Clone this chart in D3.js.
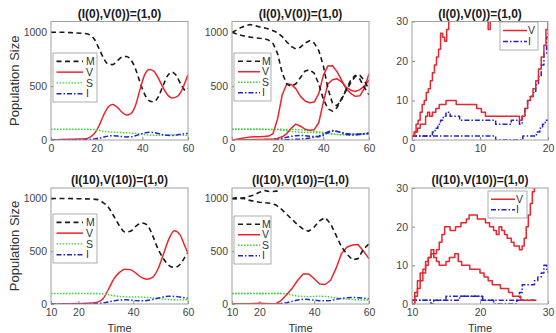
<!DOCTYPE html>
<html>
<head>
<meta charset="utf-8">
<script src="https://cdn.jsdelivr.net/npm/d3@7"></script>
<style>
  body { margin: 0; background: #fff; }
  svg { display: block; }
  text { font-family: "Liberation Sans", Arial, sans-serif; }
</style>
</head>
<body>
<svg id="chart" width="556" height="333"></svg>
<script>
// ---- data ----
// top left: (I(0),V(0))=(1,0), mean curves
const p1T = [0,5,10,15,17,19,21,23,25,27,29,31,33,35,37,39,41,43,45,47,49,51,53,55,57,59,60];
const p1M = [1000,1000,995,988,975,935,850,760,705,700,735,768,775,745,660,535,425,365,355,400,500,595,630,595,510,460,480];
const p1V = [0,5,8,12,25,60,130,230,305,330,305,260,232,245,320,470,605,655,640,575,490,420,390,400,450,550,605];
const p1S = [100,100,100,100,99,96,90,82,76,73,71,69,67,65,61,56,50,46,44,44,46,48,48,47,45,43,43];
const p1I = [0,1,2,3,5,9,16,27,36,40,37,32,29,31,40,54,66,71,69,60,49,43,42,47,54,59,60];

// top middle: two stochastic runs
const p2T = [0,2,4,6,8,10,12,14,16,18,20,22,24,26,28,30,32,34,36,38,40,42,44,46,48,50,52,54,56,58,60];
const p2MA = [1000,1020,1045,1060,1072,1062,1050,1042,1030,1015,995,960,910,868,845,862,900,922,900,830,690,480,340,318,375,470,555,600,565,485,420];
const p2MB = [1000,985,972,962,955,950,944,940,928,895,800,620,520,498,522,580,640,652,620,520,380,290,268,300,385,460,530,590,600,550,470];
const p2VA = [0,6,14,22,27,30,30,33,36,60,200,420,520,515,475,405,362,346,352,430,600,688,690,635,555,475,432,405,410,480,615];
const p2VB = [0,0,1,2,3,4,5,6,8,10,15,30,60,110,148,128,100,90,96,160,350,520,560,568,540,490,462,450,468,500,555];
const p2SA = [100,101,99,100,100,99,100,98,99,97,95,90,85,80,76,73,71,70,69,67,64,60,55,50,48,47,48,50,52,54,55];
const p2SB = [100,100,101,99,100,100,99,100,98,99,100,99,98,98,97,95,90,85,80,75,70,62,55,52,50,50,52,55,58,60,62];
const p2IA = [0,0,1,1,2,2,3,3,4,5,8,15,25,34,40,42,40,35,32,31,42,66,85,80,66,52,46,45,50,55,60];
const p2IB = [0,0,0,0,0,1,1,1,1,1,2,2,3,4,6,8,12,18,26,36,56,76,88,80,70,60,55,55,56,60,64];

// top right: early phase, step data
const p3VAt = [0,0.3,0.6,0.9,1.2,1.5,1.8,2.1,2.4,2.7,3.0,3.3,3.6,3.9,4.2,4.5,4.8,5.1,5.4,5.7,6.5,8,10,10.9,11.2,11.5,13,16,20];
const p3VA  = [1,2,4,5,7,9,10,12,13,15,17,19,21,23,27,26,25,28,30,32,35,38,36,32,28,33,38,42,45];
const p3VBt = [0,0.4,0.8,1.2,2.0,2.3,2.6,3.0,3.5,4.0,4.5,5.0,5.8,6.5,7.0,8.5,9.5,10.2,10.8,12,14,15.8,16.2,16.6,17.0,17.4,17.8,18.2,18.6,19.0,19.4,19.7,20];
const p3VB  = [1,2,3,4,6,7,6,7,8,9,9,10,10,9,9,9,8,7,6,6,6,5,6,8,10,11,13,15,18,21,24,28,31];
const p3IAt = [0,3.0,3.4,3.8,4.2,4.6,5.0,5.6,6.2,7.0,9,11,12.3,13,14,14.6,15.2,15.8,16.2,16.6,17.0,17.4,17.8,18.2,18.6,19.0,19.4,19.8,20];
const p3IA  = [1,2,3,4,5,6,7,6,6,5,5,5,4,4,4,5,5,4,6,8,10,11,12,14,16,19,22,26,28];
const p3IBt = [0,12.3,16.3,18.3,18.8,19.2,19.6,20];
const p3IB  = [1,0,1,2,3,4,5,5];

// bottom left: (I(10),V(10))=(1,0), mean curves
const p4T = [10,15,20,25,27,29,31,33,35,37,39,41,43,45,47,49,51,53,55,57,59,60];
const p4M = [1000,1000,998,995,990,962,915,830,740,682,690,738,768,752,655,525,432,367,347,372,450,490];
const p4V = [0,2,5,10,18,50,140,240,300,330,326,292,252,235,252,330,470,615,695,660,540,480];
const p4S = [100,100,100,100,99,96,88,78,71,68,67,66,65,62,58,53,47,43,40,39,40,41];
const p4I = [0,0,1,2,4,10,20,30,38,40,37,32,30,33,42,55,66,73,72,66,58,55];

// bottom middle: run A stops at t=28
const p5TA = [10,12,14,16,18,20,22,24,26,28];
const p5MA = [1000,1010,1002,1020,1032,1060,1075,1065,1070,1068];
const p5VA = [0,1,2,3,4,6,4,2,3,2];
const p5SA = [100,99,101,100,98,100,99,101,100,99];
const p5IA = [0,1,1,2,1,2,2,3,2,2];
const p5T = [10,12,14,16,18,20,22,24,26,28,30,32,34,36,38,40,42,44,46,48,50,52,54,56,58,60];
const p5MB = [1000,995,1004,985,975,965,960,955,940,900,850,800,750,710,690,730,790,820,760,650,540,470,420,430,520,570];
const p5VB = [0,1,1,2,2,3,3,2,3,35,90,150,225,285,285,240,190,185,225,340,480,540,560,565,500,430];
const p5SB = [100,100,99,100,101,100,100,99,100,98,97,85,75,72,70,72,75,72,65,58,50,45,42,40,38,38];
const p5IB = [0,0,1,1,1,2,2,2,3,5,12,25,38,45,43,36,31,30,34,44,54,60,62,60,55,50];

// bottom right: early phase, step data
const p6VAt = [10,10.4,10.8,11.2,11.6,12.0,12.4,12.8,13.2,13.6,14.0,14.4,14.8,15.2,15.6,16.0,16.4,16.8,17.2,17.6,18.0,18.4,19.0,19.6,20.2,20.8,21.4,22.0,22.4,22.8,23.2,23.6,24.0,24.6,25.0,25.4,25.8,26.2,26.5,26.8,27.1,27.4,27.7,28.0];
const p6VA  = [0,3,6,8,9,11,12,13,13,14,16,18,20,20,19,19,20,20,21,21,22,23,23,22,22,21,20,19,18,20,19,18,17,16,15,15,14,15,17,20,23,26,29,32];
const p6VBt = [10,10.4,10.8,11.2,11.6,12.0,12.4,12.8,13.2,13.6,14.0,14.5,15.0,15.5,16.0,16.3,16.8,17.3,17.8,18.5,19.2,20.0,20.6,21.2,21.8,22.4,23.0,23.6,24.2,24.8,25.4,26.0,28.3];
const p6VB  = [0,2,4,6,8,10,12,14,12,11,10,10,11,12,12,13,11,10,10,9,9,8,7,6,5,5,4,4,3,2,2,1,1];
const p6IAt = [10,12.8,13.2,14.5,15.0,19.8,20.2,22.0,25.4,25.8,26.2,26.6,27.5,28.0,28.5,29.0,29.4,29.8,30];
const p6IA  = [1,0,1,1,2,2,1,0,1,3,5,5,5,6,7,8,10,9,8];
const p6IBt = [10,14,15,17,19.8,20.4,22,25,28.3];
const p6IB  = [1,1,1,2,2,1,1,1,1];

const topTitle = "(I(0),V(0))=(1,0)";
const botTitle = "(I(10),V(10))=(1,0)";
const popTicks = [0, 500, 1000];
const smallTicks = [0, 10, 20, 30];

// ---- styles ----
const styles = {
  M: { color: "#1a1a1a", dash: "5,3.5", width: 1.6 },
  V: { color: "#e8262e", dash: null, width: 1.5 },
  S: { color: "#3fd13f", dash: "1.6,1.4", width: 1.4 },
  I: { color: "#2323cf", dash: "5,2,1.5,2", width: 1.5 }
};

const panels = [
  { id: 1, left: 51, right: 188, top: 21.5, bottom: 140, xDomain: [0, 60], yDomain: [0, 1100],
    xTicks: [0, 20, 40, 60], yTicks: popTicks, title: topTitle, ylabel: true, curve: d3.curveMonotoneX,
    series: [["M", p1T, p1M], ["V", p1T, p1V], ["S", p1T, p1S], ["I", p1T, p1I]],
    legend: { x: 53, y: 53, w: 44, h: 49, keys: ["M", "V", "S", "I"], l0: 3.5, l1: 30, tx: 33 } },
  { id: 2, left: 232, right: 369, top: 21.5, bottom: 140, xDomain: [0, 60], yDomain: [0, 1100],
    xTicks: [0, 20, 40, 60], yTicks: popTicks, title: topTitle, curve: d3.curveLinear,
    series: [["S", p2T, p2SA], ["S", p2T, p2SB], ["I", p2T, p2IA], ["I", p2T, p2IB],
             ["V", p2T, p2VA], ["V", p2T, p2VB], ["M", p2T, p2MA], ["M", p2T, p2MB]],
    legend: { x: 234, y: 53, w: 37, h: 48, keys: ["M", "V", "S", "I"], l0: 4, l1: 26, tx: 28 } },
  { id: 3, left: 412, right: 548, top: 21.5, bottom: 140, xDomain: [0, 20], yDomain: [0, 30],
    xTicks: [0, 10, 20], yTicks: smallTicks, title: topTitle, curve: d3.curveStepAfter,
    series: [["I", p3IBt, p3IB], ["I", p3IAt, p3IA], ["V", p3VBt, p3VB], ["V", p3VAt, p3VA]],
    legend: { x: 500, y: 22, w: 38, h: 28, keys: ["V", "I"], l0: 3, l1: 27, tx: 28 } },
  { id: 4, left: 51, right: 188, top: 188, bottom: 304, xDomain: [10, 60], yDomain: [0, 1100],
    xTicks: [10, 20, 40, 60], yTicks: popTicks, title: botTitle, ylabel: true, xlabel: true, curve: d3.curveMonotoneX,
    series: [["M", p4T, p4M], ["V", p4T, p4V], ["S", p4T, p4S], ["I", p4T, p4I]],
    legend: { x: 53, y: 214, w: 44, h: 49, keys: ["M", "V", "S", "I"], l0: 3.5, l1: 30, tx: 33 } },
  { id: 5, left: 232, right: 369, top: 188, bottom: 304, xDomain: [10, 60], yDomain: [0, 1100],
    xTicks: [10, 20, 40, 60], yTicks: popTicks, title: botTitle, xlabel: true, curve: d3.curveLinear,
    series: [["S", p5TA, p5SA], ["S", p5T, p5SB], ["I", p5TA, p5IA], ["I", p5T, p5IB],
             ["V", p5TA, p5VA], ["V", p5T, p5VB], ["M", p5TA, p5MA], ["M", p5T, p5MB]],
    legend: { x: 234, y: 216, w: 37, h: 48, keys: ["M", "V", "S", "I"], l0: 4, l1: 26, tx: 28 } },
  { id: 6, left: 412, right: 548, top: 188, bottom: 304, xDomain: [10, 30], yDomain: [0, 30],
    xTicks: [10, 20, 30], yTicks: smallTicks, title: botTitle, xlabel: true, curve: d3.curveStepAfter,
    series: [["I", p6IBt, p6IB], ["I", p6IAt, p6IA], ["V", p6VBt, p6VB], ["V", p6VAt, p6VA]],
    legend: { x: 488, y: 191, w: 39, h: 27, keys: ["V", "I"], l0: 3, l1: 27, tx: 28 } }
];

const svg = d3.select("#chart");
svg.append("rect").attr("width", 556).attr("height", 333).attr("fill", "#fff");
const defs = svg.append("defs");

function styleAxis(ax) {
  ax.select(".domain").remove();
  ax.selectAll(".tick line").attr("stroke", "#8a8a8a");
  ax.selectAll(".tick text").attr("fill", "#454545").style("font-size", "10.5px");
}

function drawPanel(p) {
  const x = d3.scaleLinear().domain(p.xDomain).range([p.left, p.right]);
  const y = d3.scaleLinear().domain(p.yDomain).range([p.bottom, p.top]);
  const g = svg.append("g");

  defs.append("clipPath").attr("id", "clip" + p.id)
    .append("rect")
    .attr("x", p.left).attr("y", p.top)
    .attr("width", p.right - p.left).attr("height", p.bottom - p.top);

  // axes, ticks point inwards
  g.append("g")
    .attr("transform", "translate(0," + p.bottom + ")")
    .call(d3.axisBottom(x).tickValues(p.xTicks).tickFormat(d3.format("d")).tickSize(-3).tickPadding(5))
    .call(styleAxis);
  g.append("g")
    .attr("transform", "translate(" + p.left + ",0)")
    .call(d3.axisLeft(y).tickValues(p.yTicks).tickFormat(d3.format("d")).tickSize(-3).tickPadding(4))
    .call(styleAxis);

  // lines
  const line = d3.line()
    .x(d => x(d[0]))
    .y(d => y(d[1]))
    .curve(p.curve);
  const lines = g.append("g").attr("clip-path", "url(#clip" + p.id + ")");
  p.series.forEach(s => {
    const st = styles[s[0]];
    lines.append("path")
      .datum(d3.zip(s[1], s[2]))
      .attr("d", line)
      .attr("fill", "none")
      .attr("stroke", st.color)
      .attr("stroke-width", st.width)
      .attr("stroke-dasharray", st.dash)
      .attr("stroke-linejoin", "round");
  });

  // box
  g.append("rect")
    .attr("x", p.left).attr("y", p.top)
    .attr("width", p.right - p.left).attr("height", p.bottom - p.top)
    .attr("fill", "none").attr("stroke", "#a0a0a0").attr("stroke-width", 1);

  // title
  g.append("text")
    .attr("x", (p.left + p.right) / 2)
    .attr("y", p.top - 4)
    .attr("text-anchor", "middle")
    .style("font-size", "12px").style("font-weight", "bold").attr("fill", "#1a1a1a")
    .text(p.title);

  if (p.ylabel) {
    g.append("text")
      .attr("transform", "translate(19," + ((p.top + p.bottom) / 2) + ") rotate(-90)")
      .attr("text-anchor", "middle")
      .style("font-size", "13px").attr("fill", "#333")
      .text("Population Size");
  }
  if (p.xlabel) {
    g.append("text")
      .attr("x", (p.left + p.right) / 2)
      .attr("y", p.bottom + 27.5)
      .attr("text-anchor", "middle")
      .style("font-size", "11px").attr("fill", "#333")
      .text("Time");
  }

  // legend
  const L = p.legend;
  const lg = g.append("g").attr("transform", "translate(" + L.x + "," + L.y + ")");
  lg.append("rect").attr("width", L.w).attr("height", L.h)
    .attr("fill", "#fff").attr("stroke", "#9a9a9a").attr("stroke-width", 0.8);
  const step = (L.h - 6) / L.keys.length;
  L.keys.forEach((k, i) => {
    const ry = 3 + step * (i + 0.5);
    const st = styles[k];
    lg.append("line")
      .attr("x1", L.l0).attr("x2", L.l1).attr("y1", ry).attr("y2", ry)
      .attr("stroke", st.color).attr("stroke-width", st.width)
      .attr("stroke-dasharray", st.dash);
    lg.append("text")
      .attr("x", L.tx).attr("y", ry + 3.7)
      .style("font-size", "10.5px").attr("fill", "#333")
      .text(k);
  });
}

panels.forEach(drawPanel);
</script>
</body>
</html>
